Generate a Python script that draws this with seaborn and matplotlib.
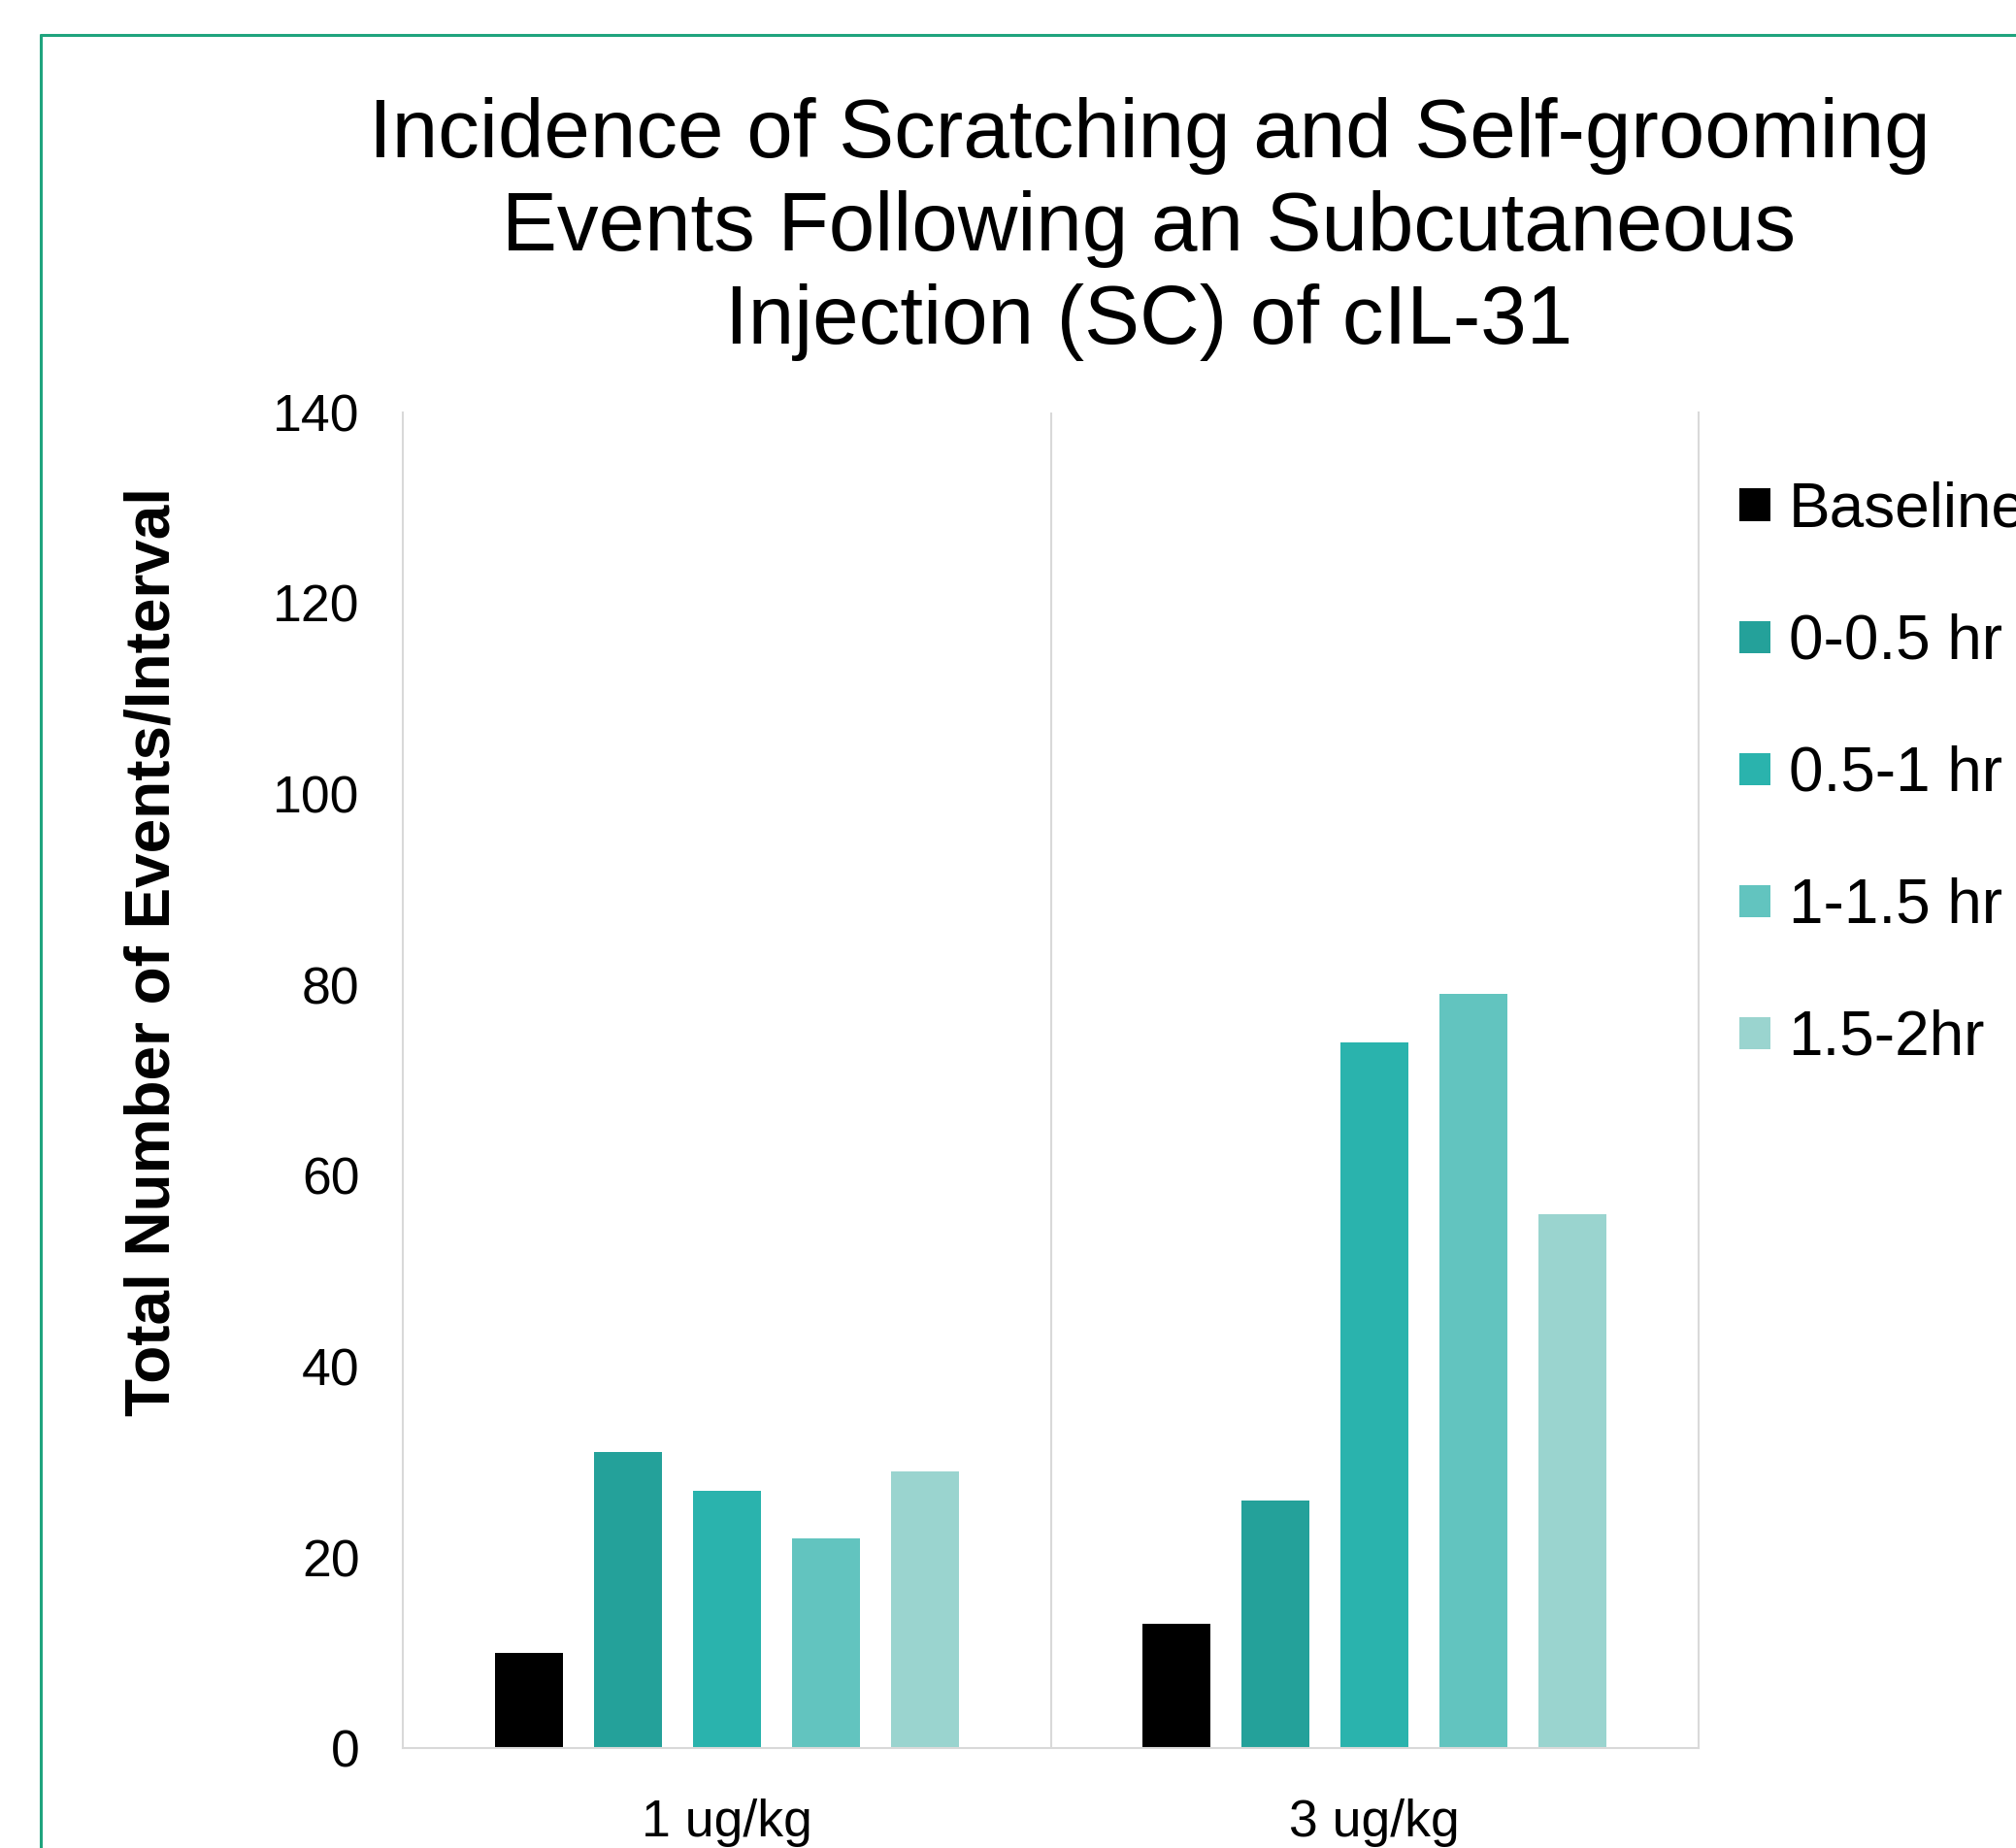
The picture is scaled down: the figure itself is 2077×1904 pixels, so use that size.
import matplotlib
matplotlib.use("Agg")
import matplotlib.pyplot as plt
import pandas as pd
import seaborn as sns
from matplotlib.lines import Line2D

# chart data
doses = ["1 ug/kg", "3 ug/kg"]
intervals = ["Baseline", "0-0.5 hr", "0.5-1 hr", "1-1.5 hr", "1.5-2hr"]
events_1ug = [10, 31, 27, 22, 29]
events_3ug = [13, 26, 74, 79, 56]
colors = ["#000000", "#24A19A", "#2AB3AD", "#62C4BF", "#9AD4CF"]
y_ticks = [0, 20, 40, 60, 80, 100, 120, 140]


def build_df():
    rows = []
    for dose, vals in zip(doses, [events_1ug, events_3ug]):
        for interval, v in zip(intervals, vals):
            rows.append({"DOSE": dose, "INTERVAL": interval, "EVENTS": v})
    return pd.DataFrame(rows)


def main():
    sns.set_style("white")
    plt.rcParams["font.family"] = ["Liberation Sans", "DejaVu Sans"]
    plt.rcParams["text.color"] = "black"

    df = build_df()
    fig = plt.figure(figsize=(20.77, 19.04), dpi=100)
    ax = fig.add_axes([0.1998, 0.054, 0.6428, 0.723])

    sns.barplot(data=df, x="DOSE", y="EVENTS", hue="INTERVAL",
                hue_order=intervals, palette=colors, order=doses,
                width=0.764, gap=0.31, linewidth=0, saturation=1,
                legend=True, ax=ax)

    ax.set_xlim(-0.5, 1.5)
    ax.set_ylim(0, 140)
    ax.set_yticks(y_ticks)
    ax.tick_params(axis="both", length=0, labelsize=38.5, colors="black")
    ax.tick_params(axis="y", pad=32)
    ax.tick_params(axis="x", pad=37)
    ax.set_xlabel("")
    ax.set_ylabel("")
    ax.axvline(0.5, color="#D9D9D9", lw=1.5, zorder=0)
    for side in ["left", "right", "bottom"]:
        ax.spines[side].set_color("#D9D9D9")
        ax.spines[side].set_linewidth(1.5)
    ax.spines["top"].set_visible(False)

    fig.text(0.076, 0.485, "Total Number of Events/Interval", rotation=90,
             ha="center", va="center", fontsize=46, fontweight="bold")
    fig.text(0.570, 0.8762,
             "Incidence of Scratching and Self-grooming\n"
             "Events Following an Subcutaneous\n"
             "Injection (SC) of cIL-31",
             ha="center", va="center", fontsize=61.5, linespacing=1.26)

    handles, labels = ax.get_legend_handles_labels()
    ax.legend(handles, labels, loc="upper left",
              bbox_to_anchor=(0.8505, 0.753), bbox_transform=fig.transFigure,
              frameon=False, fontsize=46, handlelength=0.5,
              handleheight=0.42, handletextpad=0.29, labelspacing=1.19,
              borderaxespad=0)

    # green frame around the chart area (cut at right and bottom)
    green = "#1FA47E"
    x0 = 42 / 2077
    y0 = 1 - 36 / 1904
    fig.add_artist(Line2D([x0, x0], [-0.1, y0], transform=fig.transFigure,
                          color=green, lw=2.2))
    fig.add_artist(Line2D([x0, 1.1], [y0, y0], transform=fig.transFigure,
                          color=green, lw=2.2))

    fig.savefig("out.png", dpi=100)


if __name__ == "__main__":
    main()
